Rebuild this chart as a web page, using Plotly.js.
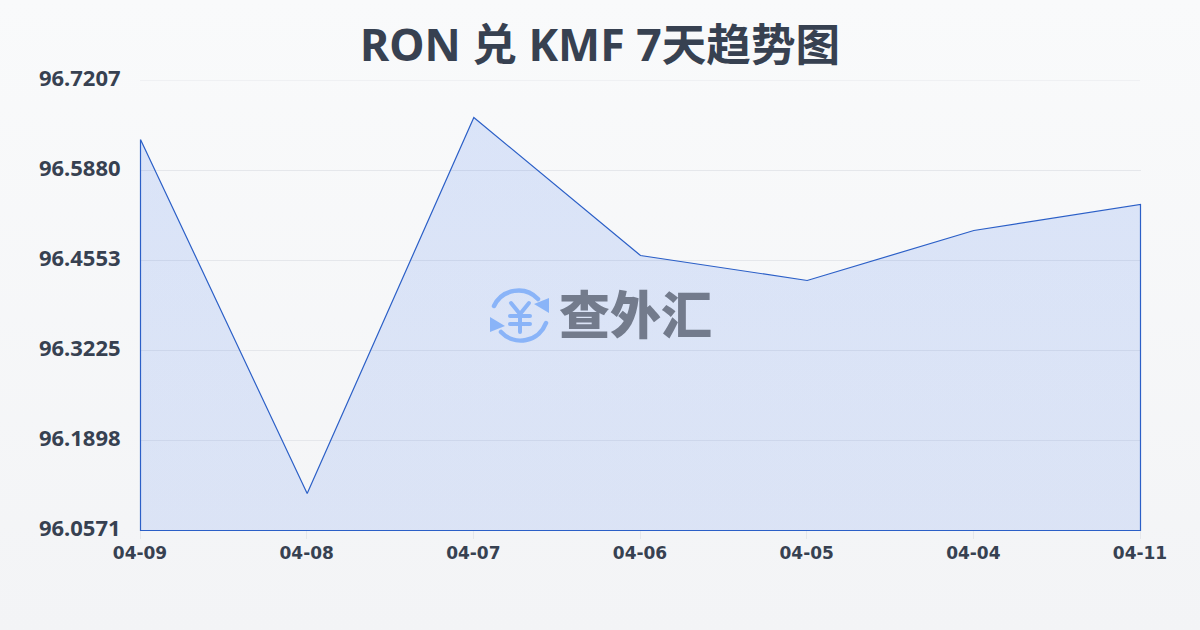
<!DOCTYPE html>
<html><head><meta charset="utf-8">
<script src="https://cdn.plot.ly/plotly-3.0.1.min.js"></script>
<style>html,body{margin:0;padding:0;width:1200px;height:630px;overflow:hidden;background:linear-gradient(180deg,#f9fafb,#f3f4f6);}
.scatterlayer,.gridlayer{transform:translate(0.5px,0.5px);}
.overplot .plot,.overplot .xy,.scatterlayer,.scatterlayer *{clip-path:none !important;}</style>
</head><body><div id="chart" style="width:1200px;height:630px"></div>
<script>
const dates = ['04-09','04-08','04-07','04-06','04-05','04-04','04-11'];
const rates = [96.6337,96.1117,96.6661,96.4626,96.4258,96.4995,96.5378];
const yTicks = [96.0571,96.1898,96.3225,96.4553,96.5880,96.7207];
const yLabels = ['96.0571','96.1898','96.3225','96.4553','96.5880','96.7207'];
const titleText = 'RON 兑 KMF 7天趋势图';
const watermark = '查外汇';
const FONT = '"Noto Sans","Noto Sans CJK SC",sans-serif';
const logo = `<svg xmlns="http://www.w3.org/2000/svg" viewBox="0 0 60 60"><g fill="none" stroke="#8ab4f8" stroke-width="4.5" stroke-linecap="round"><path d="M4 21A27 27 0 0 1 48 14"/><path d="M56 38A27 27 0 0 1 11 47"/><path d="M21 18L30 29L39 18M20 31H40M20 39H40M30 29V47" stroke-width="4"/></g><path fill="#8ab4f8" d="M59 13L59 28L44 19Z M0 32L0 47L15 41Z"/></svg>`;
const last = dates.length-1;
const xs = [...dates, dates[last], dates[0], dates[0]];
const ys = [...rates, yTicks[0], yTicks[0], rates[0]];
Plotly.newPlot('chart',[{
  x:xs,y:ys,type:'scatter',mode:'lines',fill:'toself',cliponaxis:false,
  line:{color:'#2b5fc7',width:1.2,shape:'linear'},
  fillgradient:{type:'vertical',colorscale:[[0,'rgba(37,99,235,0.12)'],[1,'rgba(37,99,235,0.14)']]},
  hoverinfo:'skip'
}],{
  width:1200,height:630,autosize:false,
  paper_bgcolor:'rgba(0,0,0,0)',plot_bgcolor:'rgba(0,0,0,0)',
  margin:{l:140,r:60,t:80,b:100},showlegend:false,
  title:{text:titleText,x:0.5,xanchor:'center',y:0.928,yanchor:'middle',font:{family:FONT,size:44.6,color:'#374151',weight:700}},
  xaxis:{type:'category',range:[0,6],showgrid:false,showline:false,
    ticks:'outside',ticklen:8,tickcolor:'#e5e7eb',tickwidth:1,zeroline:false,
    tickfont:{family:'"DejaVu Sans"',size:17,color:'#374151',weight:700},tickangle:0},
  yaxis:{range:[yTicks[0],yTicks[5]],tickmode:'array',tickvals:yTicks,ticktext:yLabels,
    showgrid:true,gridcolor:'#e5e7eb',gridwidth:1,zeroline:false,
    showline:false,ticks:'outside',ticklen:14,tickcolor:'rgba(0,0,0,0)',ticklabelshift:-2,
    tickfont:{family:FONT,size:22,color:'#374151',weight:700}},
  shapes:[{type:'line',layer:'below',xref:'paper',yref:'y',x0:0,x1:1,y0:yTicks[5],y1:yTicks[5],line:{color:'#e5e7eb',width:1}}],
  images:[{source:'data:image/svg+xml;charset=utf-8,'+encodeURIComponent(logo),xref:'paper',yref:'paper',
    x:(490-140)/1000,y:(530-285)/450,sizex:60/1000,sizey:60/450,xanchor:'left',yanchor:'top',layer:'above',sizing:'contain'}],
  annotations:[{text:watermark,xref:'paper',yref:'paper',x:(635.5-140)/1000,y:(530-312)/450,xanchor:'center',yanchor:'middle',showarrow:false,
    font:{family:'"Noto Sans CJK SC"',size:51,color:'#737b8c',weight:900}}]
},{displayModeBar:false,staticPlot:true});
</script></body></html>
